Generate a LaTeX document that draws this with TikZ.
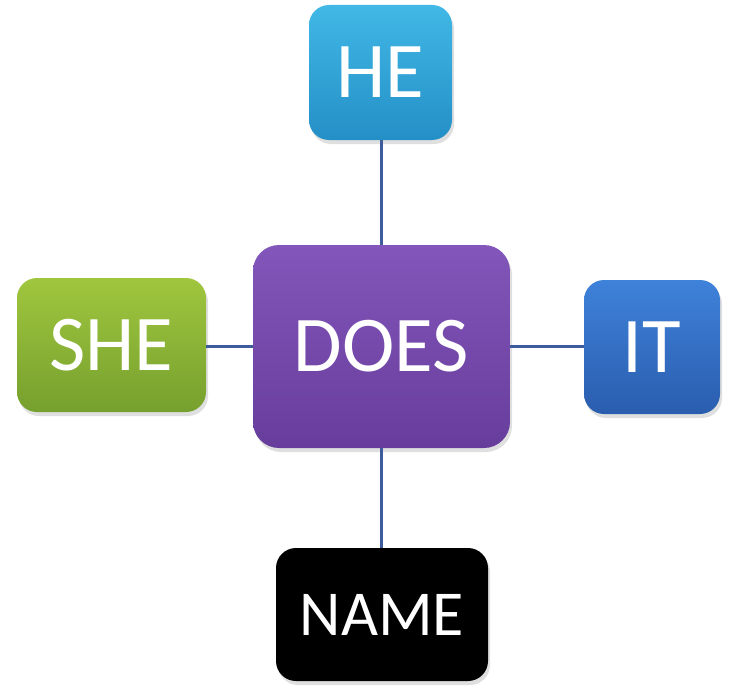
\documentclass[tikz,border=0pt]{standalone}
\usepackage{fontspec}
\setmainfont{Carlito}
\usetikzlibrary{shadows}
\definecolor{heT}{HTML}{41B8E6}
\definecolor{heB}{HTML}{248FC6}
\definecolor{doT}{HTML}{8256BA}
\definecolor{doB}{HTML}{673D9C}
\definecolor{shT}{HTML}{A0C63E}
\definecolor{shB}{HTML}{76A02E}
\definecolor{itT}{HTML}{3F82DA}
\definecolor{itB}{HTML}{2A5DAE}
\definecolor{lnC}{HTML}{3E5C9C}
\tikzset{
  box/.style={rectangle, rounded corners=20pt, inner sep=0pt, text=white,
    font=\fontsize{79}{84}\selectfont,
    drop shadow={opacity=0.25, shadow xshift=2pt, shadow yshift=-4pt}},
  link/.style={draw=lnC, line width=3.2pt}
}
\begin{document}
\begin{tikzpicture}[x=1pt,y=-1pt]
\useasboundingbox (0,0) rectangle (730,690);
\node[box, top color=heT, bottom color=heB, minimum width=143pt, minimum height=135pt] (he) at (380.5,72.5) {HE};
\node[box, rounded corners=26pt, top color=doT, bottom color=doB, minimum width=257pt, minimum height=203pt] (does) at (381.5,346.5) {DOES};
\node[box, top color=shT, bottom color=shB, minimum width=189pt, minimum height=134pt] (she) at (111.5,345) {SHE};
\node[box, top color=itT, bottom color=itB, minimum width=136pt, minimum height=134pt] (it) at (652,347) {IT};
\node[box, fill=black, minimum width=212pt, minimum height=133pt, font=\fontsize{64}{70}\selectfont] (name) at (382,614.5) {NAME};
\draw[link] (does.north) -- (does.north |- he.south);
\draw[link] (does.south) -- (does.south |- name.north);
\draw[link] (does.west) -- (does.west -| she.east);
\draw[link] (does.east) -- (does.east -| it.west);
\end{tikzpicture}
\end{document}
